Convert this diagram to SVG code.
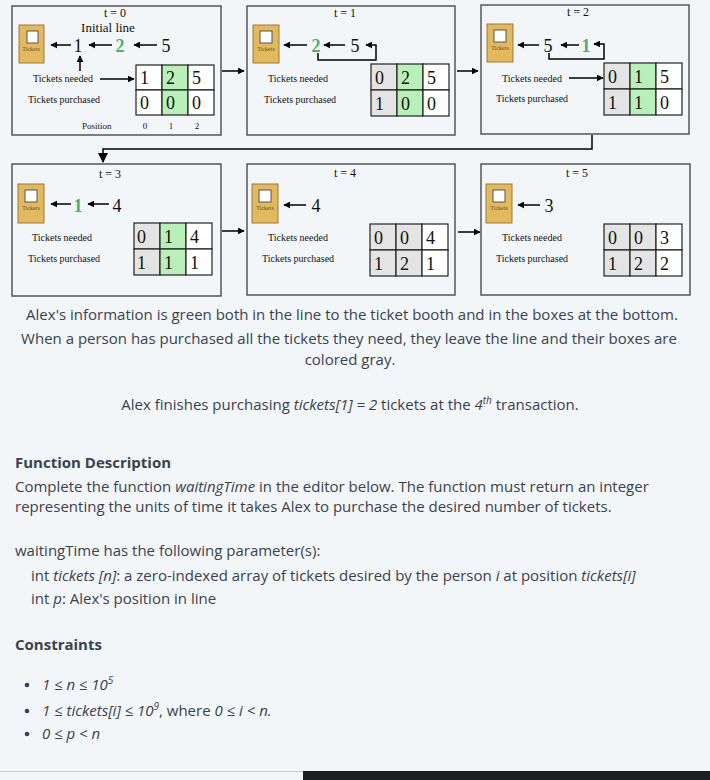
<svg xmlns="http://www.w3.org/2000/svg" width="710" height="780" viewBox="0 0 710 780">
<defs>
<marker id="ah" viewBox="0 0 10 10" refX="9" refY="5" markerWidth="7" markerHeight="7" orient="auto" markerUnits="userSpaceOnUse"><path d="M0,0 L10,5 L0,10 z" fill="#000"/></marker>
<marker id="ah2" viewBox="0 0 10 10" refX="9" refY="5" markerWidth="10" markerHeight="10" orient="auto" markerUnits="userSpaceOnUse"><path d="M0,0 L10,5 L0,10 z" fill="#000"/></marker>
</defs>
<style>
.panel{fill:#f3f6f8;stroke:#555;stroke-width:1.5}
.booth{fill:#e2b95f;stroke:#9c7a3a;stroke-width:1}
.win{fill:#fff;stroke:#555;stroke-width:1}
.bt{font-family:"Liberation Serif",serif;font-size:6px;fill:#6b5020;text-anchor:middle}
.s{font-family:"Liberation Serif",serif;fill:#111}
.t{font-size:12px;text-anchor:middle}
.lab{font-size:10px}
.big{font-size:18px;text-anchor:middle}
.g{fill:#4caf6e;font-weight:bold}
.cell{fill:#fff;stroke:#222;stroke-width:1.2}
.cg{fill:#b9f0b9;stroke:#222;stroke-width:1.2}
.cy{fill:#e4e4e4;stroke:#222;stroke-width:1.2}
.num{font-family:"Liberation Serif",serif;font-size:18px;fill:#111}
.ln{stroke:#000;stroke-width:1.5;fill:none}
.p{font-family:"Open Sans",sans-serif;font-size:15px;fill:#39424e}
.pc{text-anchor:middle}
.b{font-weight:bold}
.i{font-style:italic}
</style>
<rect width="710" height="780" fill="#f3f6f8"/>

<g id="p0">
<rect class="panel" x="12" y="6" width="209" height="129"/>
<text class="s t" x="115" y="17">t = 0</text>
<text class="s" x="108" y="32" font-size="13" text-anchor="middle">Initial line</text>
<rect class="booth" x="19" y="25" width="25" height="38"/><rect class="win" x="27" y="31" width="11" height="12"/><text class="bt" x="31" y="51">Tickets</text>
<text class="s big" x="78" y="52">1</text><text class="s big g" x="120" y="52">2</text><text class="s big" x="166" y="52">5</text>
<text class="s lab" x="33" y="82">Tickets needed</text><text class="s lab" x="28" y="103">Tickets purchased</text>
<rect class="cell" x="136" y="65" width="26" height="25"/><rect class="cg" x="162" y="65" width="26" height="25"/><rect class="cell" x="188" y="65" width="26" height="25"/>
<rect class="cell" x="136" y="90" width="26" height="25"/><rect class="cg" x="162" y="90" width="26" height="25"/><rect class="cell" x="188" y="90" width="26" height="25"/>
<text class="num" x="140" y="84">1</text><text class="num" x="166" y="84">2</text><text class="num" x="192" y="84">5</text>
<text class="num" x="140" y="109">0</text><text class="num" x="166" y="109">0</text><text class="num" x="192" y="109">0</text>
<text class="s" x="82" y="129" font-size="9">Position</text>
<text class="s" x="145" y="129" font-size="9" text-anchor="middle">0</text><text class="s" x="171" y="129" font-size="9" text-anchor="middle">1</text><text class="s" x="197" y="129" font-size="9" text-anchor="middle">2</text>
</g>

<g id="p1">
<rect class="panel" x="247" y="6" width="208" height="129"/>
<text class="s t" x="345" y="17">t = 1</text>
<rect class="booth" x="253" y="25" width="26" height="38"/><rect class="win" x="260" y="31" width="12" height="12"/><text class="bt" x="266" y="51">Tickets</text>
<text class="s big g" x="316" y="52">2</text><text class="s big" x="355" y="52">5</text>
<text class="s lab" x="268" y="82">Tickets needed</text><text class="s lab" x="264" y="103">Tickets purchased</text>
<rect class="cy" x="371" y="64" width="26" height="26"/><rect class="cg" x="397" y="64" width="26" height="26"/><rect class="cell" x="423" y="64" width="26" height="26"/>
<rect class="cy" x="371" y="90" width="26" height="26"/><rect class="cg" x="397" y="90" width="26" height="26"/><rect class="cell" x="423" y="90" width="26" height="26"/>
<text class="num" x="375" y="84">0</text><text class="num" x="401" y="84">2</text><text class="num" x="427" y="84">5</text>
<text class="num" x="375" y="110">1</text><text class="num" x="401" y="110">0</text><text class="num" x="427" y="110">0</text>
</g>

<g id="p2">
<rect class="panel" x="481" y="5" width="208" height="129"/>
<text class="s t" x="578" y="16">t = 2</text>
<rect class="booth" x="487" y="24" width="26" height="38"/><rect class="win" x="494" y="30" width="12" height="12"/><text class="bt" x="500" y="50">Tickets</text>
<text class="s big" x="548" y="52">5</text><text class="s big g" x="586" y="52">1</text>
<text class="s lab" x="502" y="82">Tickets needed</text><text class="s lab" x="496" y="102">Tickets purchased</text>
<rect class="cy" x="604" y="63" width="26" height="26"/><rect class="cg" x="630" y="63" width="26" height="26"/><rect class="cell" x="656" y="63" width="26" height="26"/>
<rect class="cy" x="604" y="89" width="26" height="26"/><rect class="cg" x="630" y="89" width="26" height="26"/><rect class="cell" x="656" y="89" width="26" height="26"/>
<text class="num" x="608" y="83">0</text><text class="num" x="634" y="83">1</text><text class="num" x="660" y="83">5</text>
<text class="num" x="608" y="109">1</text><text class="num" x="634" y="109">1</text><text class="num" x="660" y="109">0</text>
</g>

<g id="p3">
<rect class="panel" x="12" y="164" width="209" height="132"/>
<text class="s t" x="110" y="178">t = 3</text>
<rect class="booth" x="18" y="184" width="26" height="39"/><rect class="win" x="25" y="190" width="12" height="12"/><text class="bt" x="31" y="210">Tickets</text>
<text class="s big g" x="78" y="212">1</text><text class="s big" x="117" y="212">4</text>
<text class="s lab" x="32" y="241">Tickets needed</text><text class="s lab" x="28" y="262">Tickets purchased</text>
<rect class="cy" x="134" y="223" width="26" height="26"/><rect class="cg" x="160" y="223" width="26" height="26"/><rect class="cell" x="186" y="223" width="26" height="26"/>
<rect class="cy" x="134" y="249" width="26" height="26"/><rect class="cg" x="160" y="249" width="26" height="26"/><rect class="cell" x="186" y="249" width="26" height="26"/>
<text class="num" x="137" y="243">0</text><text class="num" x="164" y="243">1</text><text class="num" x="190" y="243">4</text>
<text class="num" x="137" y="269">1</text><text class="num" x="164" y="269">1</text><text class="num" x="190" y="269">1</text>
</g>

<g id="p4">
<rect class="panel" x="247" y="164" width="208" height="131"/>
<text class="s t" x="345" y="177">t = 4</text>
<rect class="booth" x="252" y="184" width="26" height="39"/><rect class="win" x="259" y="190" width="12" height="12"/><text class="bt" x="265" y="210">Tickets</text>
<text class="s big" x="316" y="212">4</text>
<text class="s lab" x="268" y="241">Tickets needed</text><text class="s lab" x="262" y="262">Tickets purchased</text>
<rect class="cy" x="370" y="224" width="26" height="26"/><rect class="cy" x="396" y="224" width="26" height="26"/><rect class="cell" x="422" y="224" width="26" height="26"/>
<rect class="cy" x="370" y="250" width="26" height="26"/><rect class="cy" x="396" y="250" width="26" height="26"/><rect class="cell" x="422" y="250" width="26" height="26"/>
<text class="num" x="374" y="244">0</text><text class="num" x="400" y="244">0</text><text class="num" x="426" y="244">4</text>
<text class="num" x="374" y="270">1</text><text class="num" x="400" y="270">2</text><text class="num" x="426" y="270">1</text>
</g>

<g id="p5">
<rect class="panel" x="481" y="164" width="209" height="131"/>
<text class="s t" x="577" y="177">t = 5</text>
<rect class="booth" x="486" y="184" width="26" height="39"/><rect class="win" x="493" y="190" width="12" height="12"/><text class="bt" x="499" y="210">Tickets</text>
<text class="s big" x="549" y="212">3</text>
<text class="s lab" x="502" y="241">Tickets needed</text><text class="s lab" x="496" y="262">Tickets purchased</text>
<rect class="cy" x="604" y="224" width="26" height="26"/><rect class="cy" x="630" y="224" width="26" height="26"/><rect class="cell" x="656" y="224" width="26" height="26"/>
<rect class="cy" x="604" y="250" width="26" height="26"/><rect class="cy" x="630" y="250" width="26" height="26"/><rect class="cell" x="656" y="250" width="26" height="26"/>
<text class="num" x="608" y="244">0</text><text class="num" x="634" y="244">0</text><text class="num" x="660" y="244">3</text>
<text class="num" x="608" y="270">1</text><text class="num" x="634" y="270">2</text><text class="num" x="660" y="270">2</text>
</g>

<g id="connectors">
<line class="ln" x1="71" y1="45" x2="51" y2="45" marker-end="url(#ah)"/>
<line class="ln" x1="112" y1="45" x2="89" y2="45" marker-end="url(#ah)"/>
<line class="ln" x1="157" y1="45" x2="134" y2="45" marker-end="url(#ah)"/>
<line class="ln" x1="80" y1="71" x2="80" y2="56" marker-end="url(#ah)"/>
<line class="ln" x1="100" y1="79" x2="134" y2="79" marker-end="url(#ah)"/>
<line class="ln" x1="222" y1="71" x2="244" y2="71" marker-end="url(#ah)"/>
<line class="ln" x1="307" y1="45" x2="284" y2="45" marker-end="url(#ah)"/>
<line class="ln" x1="345" y1="45" x2="324" y2="45" marker-end="url(#ah)"/>
<path class="ln" d="M318,53 V60 H376 V45 H366" marker-end="url(#ah)"/>
<line class="ln" x1="457" y1="71" x2="478" y2="71" marker-end="url(#ah)"/>
<line class="ln" x1="539" y1="45" x2="518" y2="45" marker-end="url(#ah)"/>
<line class="ln" x1="579" y1="45" x2="561" y2="45" marker-end="url(#ah)"/>
<path class="ln" d="M549,53 V59 H604 V44 H594" marker-end="url(#ah)"/>
<line class="ln" x1="569" y1="78" x2="603" y2="78" marker-end="url(#ah)"/>
<path class="ln" d="M592,135 V149 H103 V162" stroke-width="2" marker-end="url(#ah2)"/>
<line class="ln" x1="71" y1="204" x2="51" y2="204" marker-end="url(#ah)"/>
<line class="ln" x1="109" y1="204" x2="88" y2="204" marker-end="url(#ah)"/>
<line class="ln" x1="222" y1="231" x2="244" y2="231" marker-end="url(#ah)"/>
<line class="ln" x1="306" y1="205" x2="284" y2="205" marker-end="url(#ah)"/>
<line class="ln" x1="458" y1="232" x2="480" y2="232" marker-end="url(#ah)"/>
<line class="ln" x1="540" y1="205" x2="518" y2="205" marker-end="url(#ah)"/>
</g>

<g id="text">
<text class="p pc" x="352" y="320">Alex's information is green both in the line to the ticket booth and in the boxes at the bottom.</text>
<text class="p pc" x="349" y="344">When a person has purchased all the tickets they need, they leave the line and their boxes are</text>
<text class="p pc" x="350" y="365">colored gray.</text>
<text class="p pc" x="350" y="410">Alex finishes purchasing <tspan class="i">tickets[1] = 2</tspan> tickets at the <tspan class="i">4<tspan font-size="10" dy="-6">th</tspan></tspan><tspan dy="6"> transaction.</tspan></text>
<text class="p b" x="15" y="468">Function Description</text>
<text class="p" x="15" y="492">Complete the function <tspan class="i">waitingTime</tspan> in the editor below. The function must return an integer</text>
<text class="p" x="15" y="512">representing the units of time it takes Alex to purchase the desired number of tickets.</text>
<text class="p" x="15" y="556">waitingTime has the following parameter(s):</text>
<text class="p" x="31" y="581">int <tspan class="i">tickets [n]</tspan>:  a zero-indexed array of tickets desired by the person <tspan class="i">i</tspan> at position <tspan class="i">tickets[i]</tspan></text>
<text class="p" x="31" y="604">int <tspan class="i">p</tspan>: Alex's position in line</text>
<text class="p b" x="15" y="650">Constraints</text>
<circle cx="27" cy="685" r="2.3" fill="#39424e"/><circle cx="27" cy="711" r="2.3" fill="#39424e"/><circle cx="27" cy="734" r="2.3" fill="#39424e"/>
<text class="p i" x="42" y="690">1 ≤ n ≤ 10<tspan font-size="10" dy="-6">5</tspan></text>
<text class="p" x="42" y="716"><tspan class="i">1 ≤ tickets[i] ≤ 10</tspan><tspan class="i" font-size="10" dy="-6">9</tspan><tspan dy="6">, where </tspan><tspan class="i">0 ≤ i &lt; n.</tspan></text>
<text class="p i" x="42" y="739">0 ≤ p &lt; n</text>
</g>
<rect x="0" y="771" width="303" height="1" fill="#ccc"/>
<rect x="303" y="771" width="407" height="9" fill="#1e1e1e"/>
</svg>
